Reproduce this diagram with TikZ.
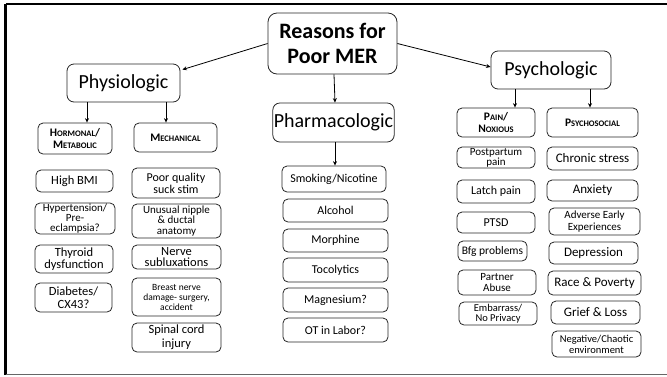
\documentclass[tikz,border=0pt]{standalone}
\usepackage{fontspec}
\setmainfont{Carlito}
\usetikzlibrary{arrows.meta}

% box given by its corners (x1,y1) and (x2,y2), y running downward
\newcommand\mkbox[7]{%
  \node[#6, minimum width={(#4-#2)*1pt}, minimum height={(#5-#3)*1pt}]
    (#1) at ({(#2+#4)/2},{(#3+#5)/2}) {#7};}
\newcommand\fs[2]{\fontsize{#1}{#2}\selectfont}
% hand-made small capitals for the sub-headings
\newcommand\hsc[2]{{\fs{11.5}{12}#1}{\fs{8.5}{12}#2}}

\tikzset{
  box/.style={draw=black!85, line width=0.8pt, rounded corners=5pt,
    align=center, inner sep=1pt, text=black},
  head/.style={box, rounded corners=7pt, font=\fs{20}{22}},
  title/.style={box, rounded corners=9pt, font=\bfseries\fs{22}{25}},
  sub/.style={box, font=\bfseries\fs{11.5}{12}},
  leaf/.style={box, font=\fs{#1}{#1}},
  leaf/.default=12,
  sz/.style 2 args={font=\fs{#1}{#2}},
  arr/.style={-{Stealth[length=4.5pt,width=4pt]}, line width=0.8pt},
}

\begin{document}
\begin{tikzpicture}[x=1pt, y=-1pt]
\useasboundingbox (0,0) rectangle (667,376);

% slide frame
\draw[line width=2.5pt] (5.5,4) -- (667,4);
\draw[line width=2.5pt] (5.5,4) -- (5.5,375);
\draw[line width=1pt, black!60] (5.5,374) -- (667,374);

% top level
\mkbox{main}{268}{13}{397}{74}{title}{Reasons for\\Poor MER}
\mkbox{phys}{67}{64}{180}{102}{head}{Physiologic}
\mkbox{pharm}{273}{103}{394}{142}{head}{Pharmacologic}
\mkbox{psych}{491}{51}{611}{89}{head}{Psychologic}

% sub-headings
\mkbox{hm}{38}{123}{112}{154}{sub}{\hsc{H}{ORMONAL}/\\\hsc{M}{ETABOLIC}}
\mkbox{mech}{134}{123}{217}{152}{sub}{\hsc{M}{ECHANICAL}}
\mkbox{pn}{457}{108}{535}{137}{sub}{\hsc{P}{AIN}/\\\hsc{N}{OXIOUS}}
\mkbox{ps}{547}{108}{638}{137}{sub}{\hsc{P}{SYCHOSOCIAL}}

% hormonal / metabolic
\mkbox{bmi}{36}{170}{113}{192}{leaf, sz={12.5}{13}}{High BMI}
\mkbox{hyp}{35}{203}{115}{234}{leaf, sz={11}{9.8}}{Hypertension/\\Pre-\\eclampsia?}
\mkbox{thy}{35}{245}{113}{273}{leaf, sz={12.5}{12.5}}{Thyroid\\dysfunction}
\mkbox{dia}{35}{283}{112}{312}{leaf, sz={12.5}{13.5}}{Diabetes/\\CX43?}

% mechanical
\mkbox{suck}{132}{168}{220}{198}{leaf, sz={12}{12}}{Poor quality\\suck stim}
\mkbox{nip}{132}{204}{221}{238}{leaf, sz={11}{10.5}}{Unusual nipple\\\& ductal\\anatomy}
\mkbox{nerve}{132}{245}{221}{269}{leaf, sz={12.5}{11}}{Nerve\\subluxations}
\mkbox{breast}{132}{278}{221}{316}{leaf, sz={9.5}{10}}{Breast nerve\\damage- surgery,\\accident}
\mkbox{spinal}{132}{323}{221}{352}{leaf, sz={12.5}{14}}{Spinal cord\\injury}

% pharmacologic
\mkbox{smoke}{282}{166}{386}{192}{leaf}{Smoking/Nicotine}
\mkbox{alc}{283}{199}{388}{222}{leaf}{Alcohol}
\mkbox{mor}{283}{229}{388}{252}{leaf}{Morphine}
\mkbox{toc}{283}{258}{388}{282}{leaf}{Tocolytics}
\mkbox{mag}{283}{288}{388}{312}{leaf}{Magnesium?}
\mkbox{ot}{283}{318}{388}{342}{leaf}{OT in Labor?}

% pain / noxious
\mkbox{post}{457}{147}{535}{168}{leaf, sz={11}{10}}{Postpartum\\pain}
\mkbox{latch}{457}{180}{535}{203}{leaf}{Latch pain}
\mkbox{ptsd}{457}{212}{535}{233}{leaf}{PTSD}
\mkbox{bfg}{458}{241}{527}{261}{leaf=11.5}{Bfg problems}
\mkbox{abuse}{458}{270}{536}{295}{leaf, sz={11}{10.5}}{Partner\\Abuse}
\mkbox{emb}{459}{302}{537}{325}{leaf, sz={10.5}{10}}{Embarrass/\\No Privacy}

% psychosocial
\mkbox{chron}{547}{147}{638}{170}{leaf=13}{Chronic stress}
\mkbox{anx}{547}{180}{638}{201}{leaf=13}{Anxiety}
\mkbox{adv}{549}{208}{640}{235}{leaf, sz={11}{11.5}}{Adverse Early\\Experiences}
\mkbox{dep}{549}{242}{638}{264}{leaf=13}{Depression}
\mkbox{race}{548}{271}{641}{295}{leaf=13}{Race \& Poverty}
\mkbox{grief}{551}{301}{640}{324}{leaf=13}{Grief \& Loss}
\mkbox{neg}{552}{331}{641}{357}{leaf, sz={10.5}{11}}{Negative/Chaotic\\environment}

% connectors
\draw[arr] (main.west) -- ([xshift=2pt,yshift=-6pt]phys.north east);
\draw[arr] (main.east) -- ([yshift=3pt]psych.west);
\draw[arr] ([xshift=1.5pt]main.south) -- ([xshift=1.5pt]pharm.north);
\draw[arr] ([xshift=1.5pt]pharm.south) -- ([xshift=1.5pt]pharm.south |- smoke.north);

\draw[arr] ([xshift=12pt]hm.north |- phys.south) -- ([xshift=12pt]hm.north);
\draw[arr] ([xshift=-9.5pt]mech.north |- phys.south) -- ([xshift=-9.5pt]mech.north);
\draw[arr] ([xshift=19pt]pn.north |- psych.south) -- ([xshift=19pt]pn.north);
\draw[arr] ([xshift=-2.5pt]ps.north |- psych.south) -- ([xshift=-2.5pt]ps.north);
\end{tikzpicture}
\end{document}
